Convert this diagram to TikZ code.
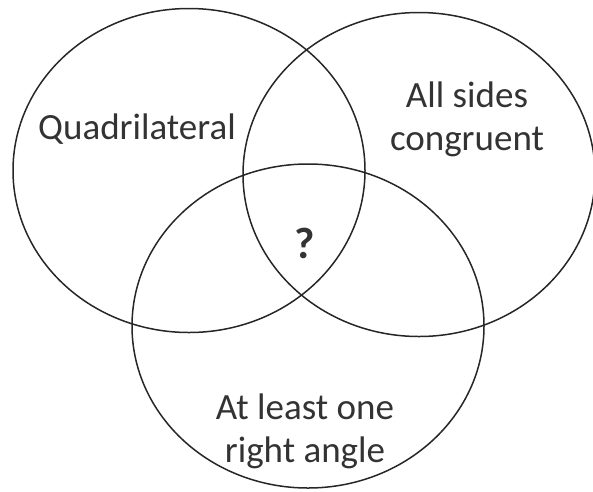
\documentclass[tikz,border=0pt]{standalone}
\usepackage{fontspec}
\setmainfont{Carlito}
\usetikzlibrary{shapes.geometric}

\begin{document}
\begin{tikzpicture}[x=1pt,y=-1pt,
  set/.style={draw=black!85,line width=1.5pt,ellipse,inner sep=0pt,
    minimum width=352pt,minimum height=324pt},
  lbl/.style={text=black!80,align=center,font=\fontsize{37}{43}\selectfont}]
  \useasboundingbox (0,0) rectangle (593,491);
  % the three sets
  \node[set] (quad) at (189,170.5) {};
  \node[set] (sides) at (419,174.5) {};
  \node[set] (rangle) at (308,326) {};
  % labels
  \node[lbl] (tquad) at (137,129) {Quadrilateral};
  \node[lbl] (tsides) at (467,119) {All sides\\congruent};
  \node[lbl] (trangle) at (305,431) {At least one\\right angle};
  \node[lbl,font=\bfseries\fontsize{44}{48}\selectfont] (mid) at (305,243) {?};
\end{tikzpicture}
\end{document}
